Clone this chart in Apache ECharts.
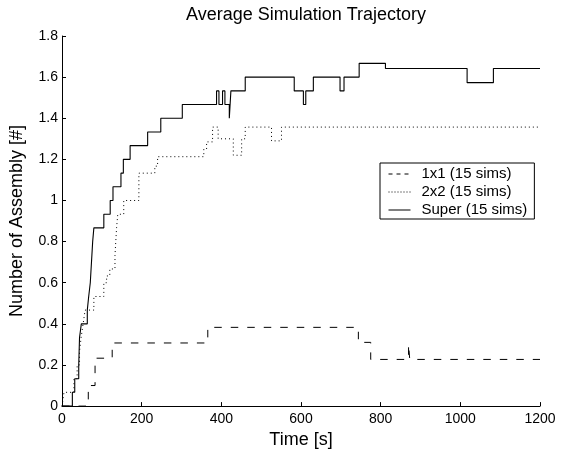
<!DOCTYPE html>
<html>
<head>
<meta charset="utf-8">
<script src="https://cdn.jsdelivr.net/npm/echarts@6/dist/echarts.min.js"></script>
<style>
  html, body { margin: 0; padding: 0; background: #fff; }
  #chart { width: 562px; height: 454px; }
</style>
</head>
<body>
<div id="chart"></div>
<script>
// average trajectories, step values (value holds from t until next t)
var t1x1 = [0, 66, 83, 126, 366, 744, 775, 870, 873, 1200]
var v1x1 = [0, 0.1, 0.233, 0.307, 0.383, 0.31, 0.227, 0.3, 0.227, 0.227]

var t2x2 = [0, 5, 30, 38, 44, 48, 53, 58, 80, 105, 112, 120, 133, 135, 137, 140, 155, 193, 233, 240,
            356, 363, 378, 392, 430, 451, 460, 526, 551, 1200]
var v2x2 = [0, 0.067, 0.133, 0.2, 0.267, 0.333, 0.4, 0.467, 0.533, 0.6, 0.633, 0.667, 0.733, 0.8, 0.867, 0.933, 1.0, 1.133, 1.167, 1.213,
            1.25, 1.285, 1.357, 1.3, 1.22, 1.3, 1.357, 1.29, 1.357, 1.357]

var tSuper = [0, 26, 32, 42, 44, 48.5, 63.5, 67, 71, 73, 75, 77, 80, 105, 121, 128, 148, 154, 171, 215,
              248, 302, 388, 394, 403, 409, 420, 424, 460, 583, 606, 612, 631, 698, 708, 746, 812, 1017, 1083, 1200]
var vSuper = [0, 0.067, 0.133, 0.2, 0.333, 0.4, 0.467, 0.533, 0.6, 0.667, 0.733, 0.8, 0.867, 0.933, 1.0, 1.067, 1.133, 1.2, 1.267, 1.333,
              1.4, 1.467, 1.533, 1.467, 1.533, 1.467, 1.4, 1.533, 1.6, 1.533, 1.467, 1.533, 1.6, 1.533, 1.6, 1.667, 1.642, 1.573, 1.642, 1.642]

var seriesNames = ['1x1 (15 sims)', '2x2 (15 sims)', 'Super (15 sims)']

function zip(ts, vs) {
    return ts.map(function (t, i) { return [t, vs[i]] })
}

var font = 'Liberation Sans, Arial, Helvetica, sans-serif'
var myChart = echarts.init(document.getElementById('chart'))

myChart.setOption({
    animation: false,
    backgroundColor: '#fff',
    title: {
        text: 'Average Simulation Trajectory',
        left: 301,
        textAlign: 'center',
        top: 1,
        textStyle: { fontFamily: font, fontSize: 18, fontWeight: 'normal', color: '#000' }
    },
    grid: { left: 62, right: 22, top: 36, bottom: 43 },
    legend: {
        orient: 'vertical',
        left: 380,
        top: 163,
        backgroundColor: '#fff',
        borderColor: '#000',
        borderWidth: 1,
        borderRadius: 0,
        padding: [3, 7, 1, 8],
        itemGap: 2,
        itemWidth: 22,
        itemHeight: 14,
        itemStyle: { opacity: 0 },
        textStyle: { fontFamily: font, fontSize: 15, color: '#000', lineHeight: 16, padding: [0, 0, 0, 6] },
        data: [
            { name: seriesNames[0], lineStyle: { type: [4, 4], width: 1, opacity: 1 } },
            { name: seriesNames[1], lineStyle: { type: [1, 2], width: 1, opacity: 1 } },
            { name: seriesNames[2], lineStyle: { width: 1, opacity: 1 } }
        ]
    },
    xAxis: {
        type: 'value',
        min: 0,
        max: 1200,
        interval: 200,
        name: 'Time [s]',
        nameLocation: 'middle',
        nameGap: 20,
        nameTextStyle: { fontFamily: font, fontSize: 18, color: '#000' },
        axisLine: { lineStyle: { color: '#000', width: 1 } },
        axisTick: { inside: true, length: 4, lineStyle: { color: '#000' } },
        axisLabel: {
            fontFamily: font, fontSize: 14, color: '#000', margin: 6,
            formatter: function (v) { return String(v) }
        },
        splitLine: { show: false }
    },
    yAxis: {
        type: 'value',
        min: 0,
        max: 1.8,
        interval: 0.2,
        name: 'Number of Assembly [#]',
        nameLocation: 'middle',
        nameGap: 36,
        nameTextStyle: { fontFamily: font, fontSize: 18, color: '#000' },
        axisLine: { show: true, lineStyle: { color: '#000', width: 1 } },
        axisTick: { show: true, inside: true, length: 4, lineStyle: { color: '#000' } },
        axisLabel: {
            fontFamily: font, fontSize: 14, color: '#000', margin: 4,
            formatter: function (v) { return String(parseFloat(v.toFixed(1))) }
        },
        splitLine: { show: false }
    },
    series: [
        {
            name: seriesNames[0],
            type: 'line',
            step: 'end',
            symbol: 'none',
            data: zip(t1x1, v1x1),
            lineStyle: { color: '#000', width: 1, type: [7.5, 9] },
            itemStyle: { color: '#000' }
        },
        {
            name: seriesNames[1],
            type: 'line',
            step: 'end',
            symbol: 'none',
            data: zip(t2x2, v2x2),
            lineStyle: { color: '#000', width: 1, type: [1, 3] },
            itemStyle: { color: '#000' }
        },
        {
            name: seriesNames[2],
            type: 'line',
            step: 'end',
            symbol: 'none',
            data: zip(tSuper, vSuper),
            lineStyle: { color: '#000', width: 1.1, type: 'solid' },
            itemStyle: { color: '#000' }
        }
    ]
})
</script>
</body>
</html>
